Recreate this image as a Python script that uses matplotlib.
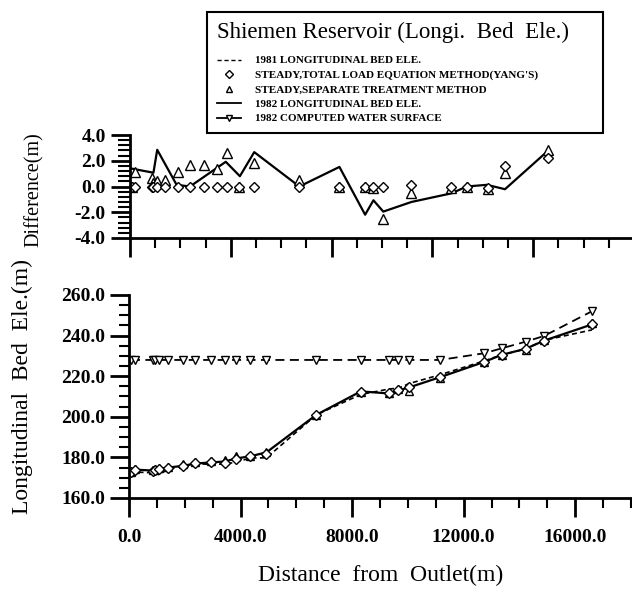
import matplotlib
matplotlib.use("Agg")
import matplotlib.pyplot as plt
from matplotlib.lines import Line2D
from matplotlib.ticker import MultipleLocator, FormatStrFormatter

# ---------------- data ----------------
stations = [70, 200, 860, 930, 1060, 1390, 1920, 2380, 2940, 3440, 3840, 4340,
            4930, 6720, 8310, 9330, 9660, 10050, 11150, 12730, 13360, 14220,
            14880, 16600]

bed_1981 = [171.6, 172.8, 172.4, 172.7, 171.5, 174.0, 175.7, 177.0, 176.5, 176.8,
            177.6, 179.7, 179.8, 201.0, 211.0, 213.7, 214.1, 216.4, 220.7, 227.5,
            230.5, 233.4, 237.7, 242.8]
bed_1982 = [173.0, 174.0, 173.5, 173.8, 174.3, 175.0, 175.8, 177.0, 177.5, 178.0,
            179.5, 180.5, 182.5, 201.0, 212.5, 211.5, 213.0, 214.5, 219.5, 227.0,
            230.5, 233.5, 237.5, 245.5]
yang_bed = [173.0, 174.0, 173.5, 173.8, 174.3, 175.0, 175.8, 177.0, 177.5, 177.0,
            179.0, 180.5, 181.5, 201.0, 212.0, 211.5, 213.0, 214.5, 219.5, 227.0,
            230.5, 233.5, 237.5, 245.5]
sep_bed = [173.0, 174.3, 174.0, 174.2, 174.8, 175.5, 176.8, 177.8, 178.3, 178.5,
           180.5, 180.5, 182.5, 201.0, 212.0, 211.5, 213.5, 212.5, 219.0, 227.0,
           230.5, 233.0, 238.0, 246.0]
water_1982 = [228.0, 228.0, 228.0, 228.0, 228.0, 228.0, 228.0, 228.0, 228.0, 228.0,
              228.0, 228.0, 228.0, 228.0, 228.0, 228.0, 228.0, 228.0, 228.0, 231.3,
              233.7, 237.0, 239.8, 252.0]

diff_yang = [0.0, 0.0, 0.0, 0.0, 0.0, 0.0, 0.0, 0.0, 0.0, 0.0, 0.0, 0.0,
             0.0, 0.0, 0.0, 0.0, -0.05, 0.0, 0.13, -0.05, 0.0, -0.1, 1.6, 2.19]
diff_sep = [0.0, 1.15, 0.67, 0.3, 0.4, 0.48, 1.15, 1.65, 1.65, 1.39, 2.61, 0.0,
            1.81, 0.48, 0.0, 0.0, -0.1, -2.53, -0.48, -0.1, -0.05, -0.2, 1.07, 2.8]

diff_line_x = [70, 930, 1080, 1850, 2380, 3800, 4360, 4930, 6720, 8310, 9330,
               9660, 10050, 11170, 12760, 13360, 14160, 14880, 16600]
diff_line_y = [1.39, 1.07, 2.85, 0.13, 0.0, 1.92, 0.8, 2.67, 0.0, 1.52, -2.19,
               -1.07, -1.95, -1.2, -0.53, 0.0, 0.13, -0.21, 2.8]

legend_labels = ["1981 LONGITUDINAL BED ELE.",
                 "STEADY,TOTAL LOAD EQUATION METHOD(YANG'S)",
                 "STEADY,SEPARATE TREATMENT METHOD",
                 "1982 LONGITUDINAL BED ELE.",
                 "1982 COMPUTED WATER SURFACE"]
title_text = "Shiemen Reservoir (Longi.  Bed  Ele.)"

# ---------------- figure ----------------
W, H = 632, 598
fig = plt.figure(figsize=(W / 100, H / 100), dpi=100)
serif = "Liberation Serif"
plt.rcParams["font.family"] = serif

lw = 1.6
ax1 = fig.add_axes([130 / W, 1 - 238 / H, 502 / W, 103 / H])
ax2 = fig.add_axes([129 / W, 1 - 498 / H, 502 / W, 203 / H])

mk = dict(mfc="white", mec="black", mew=1.0, ls="none")

# upper panel
ax1.plot(diff_line_x, diff_line_y, color="black", lw=lw)
ax1.plot(stations, diff_sep, marker="^", ms=7, **mk)
ax1.plot(stations, diff_yang, marker="D", ms=5, **mk)
ax1.set_xlim(0, 19920)
ax1.set_ylim(-4, 4)

# lower panel
ax2.plot(stations, water_1982, color="black", lw=1.3, ls=(0, (5, 3)),
         marker="v", ms=6, mfc="white", mec="black", mew=1.0)
ax2.plot(stations, bed_1981, color="black", lw=1.2, ls=(0, (3, 2)))
ax2.plot(stations, bed_1982, color="black", lw=lw)
ax2.plot(stations, sep_bed, marker="^", ms=6, **mk)
ax2.plot(stations, yang_bed, marker="D", ms=5, **mk)
ax2.set_xlim(0, 18000)
ax2.set_ylim(160, 260)

for ax in (ax1, ax2):
    for s in ("top", "right"):
        ax.spines[s].set_visible(False)
    for s in ("left", "bottom"):
        ax.spines[s].set_linewidth(2)
    ax.tick_params(which="major", length=14, width=2, direction="out")
    ax.tick_params(which="minor", length=7, width=1.5, direction="out")
    ax.xaxis.set_major_locator(MultipleLocator(4000))
    ax.xaxis.set_minor_locator(MultipleLocator(1000))

ax1.yaxis.set_major_locator(MultipleLocator(2))
ax1.yaxis.set_minor_locator(MultipleLocator(0.4))
ax1.yaxis.set_major_formatter(FormatStrFormatter("%.1f"))
ax1.tick_params(axis="x", labelbottom=False)
ax1.tick_params(axis="y", which="minor", length=9)

ax2.yaxis.set_major_locator(MultipleLocator(20))
ax2.yaxis.set_minor_locator(MultipleLocator(5))
ax2.yaxis.set_major_formatter(FormatStrFormatter("%.1f"))
ax2.xaxis.set_major_formatter(FormatStrFormatter("%.1f"))
ax2.tick_params(axis="x", which="major", pad=8)
ax2.tick_params(axis="y", which="major", pad=3)
for ax in (ax1, ax2):
    for lab in ax.get_xticklabels() + ax.get_yticklabels():
        lab.set_fontweight("bold")
        lab.set_fontsize(14)

# axis labels
fig.text(381 / W, 1 - 575 / H, "Distance  from  Outlet(m)", fontsize=17,
         ha="center", va="center")
fig.text(22 / W, 1 - 387 / H, "Longitudinal  Bed  Ele.(m)", fontsize=17,
         rotation=90, ha="center", va="center")
fig.text(34 / W, 1 - 190 / H, "Difference(m)", fontsize=14.5,
         rotation=90, ha="center", va="center")

# legend
handles = [
    Line2D([], [], color="black", lw=1.0, ls=(0, (3, 2))),
    Line2D([], [], marker="D", ms=4, **mk),
    Line2D([], [], marker="^", ms=5, **mk),
    Line2D([], [], color="black", lw=1.3),
    Line2D([], [], color="black", lw=1.3, marker="v", ms=5, mfc="white",
           mec="black", mew=1.0),
]
leg = fig.legend(handles, legend_labels, loc="upper left",
                 bbox_to_anchor=(207 / W, 0, (603 - 207) / W, 1 - 12 / H),
                 mode="expand", frameon=True, fancybox=False,
                 edgecolor="black", framealpha=1,
                 prop=dict(family=serif, weight="bold", size=8),
                 title=title_text, title_fontproperties=dict(family=serif, size=16.5),
                 alignment="left", handlelength=2.2, handletextpad=1.2,
                 labelspacing=0.42, borderpad=0.9, borderaxespad=0)
leg.get_frame().set_linewidth(1.5)
leg._legend_box.sep = 9

fig.savefig("out.png", dpi=100)
